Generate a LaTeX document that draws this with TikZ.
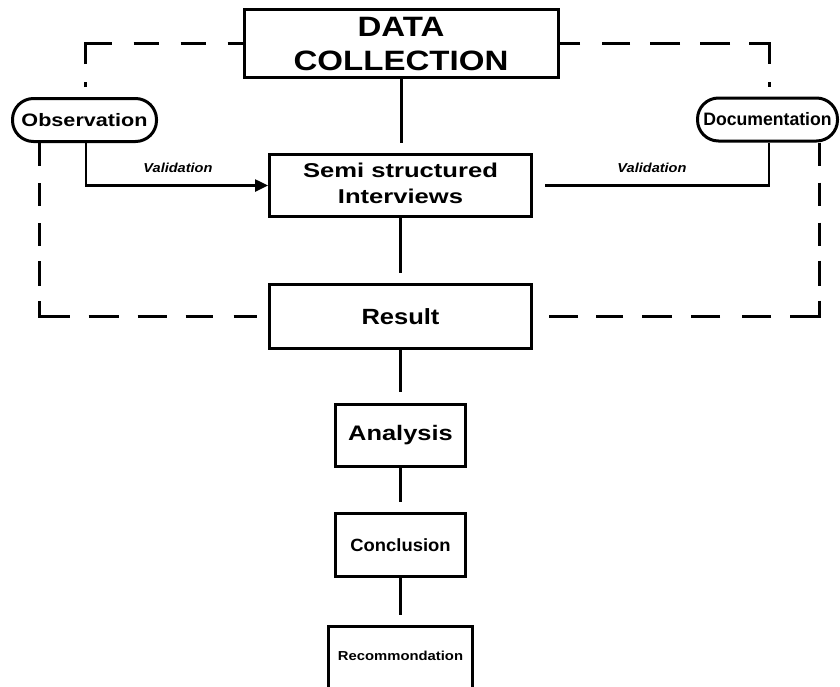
\documentclass[tikz,border=0pt]{standalone}
\usepackage{fontspec}
\setmainfont{Liberation Sans}
\usepackage{graphicx}
\usetikzlibrary{arrows.meta}
\newcommand{\tx}[3]{\scalebox{#1}[1]{\fontsize{#2}{#2}\selectfont\bfseries #3}}
\newcommand{\txtwo}[5]{\scalebox{#1}[1]{\fontsize{#2}{#3}\selectfont\bfseries\begin{tabular}{@{}c@{}}#4\\#5\end{tabular}}}
\begin{document}
\begin{tikzpicture}[x=1pt,y=-1pt,
  box/.style={draw, line width=3pt, inner sep=0pt},
  ovalbox/.style={draw, line width=3pt, rounded corners=21pt, inner sep=0pt},
  conn/.style={line width=3pt},
  val/.style={line width=2.5pt},
  dsh/.style={line width=3pt},
  vlab/.style={inner sep=0pt}]
\useasboundingbox (0,0) rectangle (840,686);
\clip (0,0) rectangle (840,686);

% main boxes
\node[box, minimum width=314pt, minimum height=63pt] (dc) at (401,43.5) {\raisebox{-3.5pt}[\height][\depth]{\txtwo{1.18}{28}{34}{DATA}{COLLECTION}}};
\node[box, minimum width=262pt, minimum height=62pt] (semi) at (400.5,185.5) {\txtwo{1.28}{20}{26}{Semi structured}{Interviews}};
\node[box, minimum width=262pt, minimum height=64pt] (res) at (400.5,316.5) {\tx{1.16}{22}{Result}};
\node[box, minimum width=130pt, minimum height=62pt] (ana) at (400.5,435.5) {\tx{1.21}{21}{Analysis}};
\node[box, minimum width=130pt, minimum height=63pt] (con) at (400.5,545) {\tx{1.04}{17.7}{Conclusion}};
\node[box, minimum width=144pt, text height=34pt, text depth=45pt, anchor=north] (rec) at (400.5,624.5) {\tx{1.14}{13}{Recommondation}};

% side ovals
\node[ovalbox, minimum width=144pt, minimum height=43pt] (obs) at (84.5,120) {\tx{1.2}{18}{Observation}};
\node[ovalbox, minimum width=140pt, minimum height=43pt] (doc) at (767.5,119.5) {\tx{0.98}{18}{Documentation}};

% vertical connectors
\draw[conn, shorten >=10pt] (dc.south) -- (dc.south |- semi.north);
\draw[conn, shorten >=10pt] (semi.south) -- (semi.south |- res.north);
\draw[conn, shorten >=11pt] (res.south) -- (res.south |- ana.north);
\draw[conn, shorten >=10pt] (ana.south) -- (ana.south |- con.north);
\draw[conn, shorten >=10pt] (con.south) -- (con.south |- rec.north);

% validation connectors
\draw[val, -{Triangle[length=13pt,width=12pt]}] ([xshift=1.5pt]obs.south) |- (semi.west);
\draw[val, shorten >=12pt] ([xshift=1.5pt]doc.south) |- (semi.east);
\node[vlab] (v1) at (178,168) {\tx{1.12}{13}{\itshape Validation}};
\node[vlab] (v2) at (652,168) {\tx{1.12}{13}{\itshape Validation}};

% dashed frame
\draw[dsh, dash pattern=on 5pt off 18pt on 47pt off 22pt on 25pt off 22pt on 25pt off 22pt on 20pt]
  ([xshift=0.5pt,yshift=10pt]obs.north) |- (dc.west);
\draw[dsh, dash pattern=on 5pt off 18pt on 40pt off 19pt on 30pt off 20pt on 30pt off 20pt on 28pt off 22pt on 24pt]
  ([xshift=1.5pt,yshift=10pt]doc.north) |- (dc.east);
\draw[dsh, shorten >=11pt, dash pattern=on 23pt off 17pt on 23pt off 17pt on 23pt off 15pt on 25pt off 15pt on 46pt off 19pt on 30pt off 19pt on 29pt off 19pt on 27pt off 21pt on 27pt]
  ([xshift=-45.5pt]obs.south) |- (res.west);
\draw[dsh, shorten >=16pt, dash pattern=on 23pt off 17pt on 23pt off 17pt on 23pt off 15pt on 25pt off 15pt on 45pt off 19pt on 29pt off 22pt on 29pt off 19pt on 30pt off 19pt on 27pt off 18pt on 33pt]
  ([xshift=51.5pt]doc.south) |- (res.east);
\end{tikzpicture}
\end{document}
